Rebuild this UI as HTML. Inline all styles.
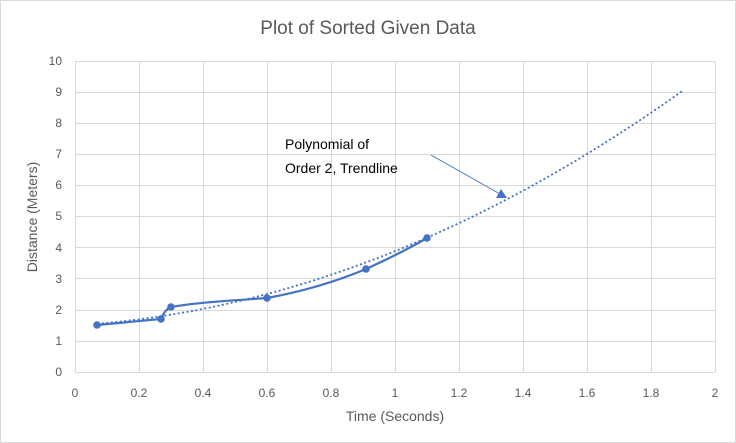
<!DOCTYPE html>
<html><head><meta charset="utf-8"><style>
html,body{margin:0;padding:0;background:#fff}
svg{display:block;font-family:"Liberation Sans",sans-serif}
</style></head><body>
<svg width="736" height="443" viewBox="0 0 736 443" xmlns="http://www.w3.org/2000/svg">
<rect x="0.5" y="0.5" width="735" height="442" fill="#fff" stroke="#d9d9d9"/>
<text x="368" y="34" text-anchor="middle" font-size="19" fill="#595959">Plot of Sorted Given Data</text>
<g stroke="#d9d9d9" stroke-width="1">
<line x1="75" y1="61.5" x2="715" y2="61.5"/><line x1="75" y1="92.5" x2="715" y2="92.5"/><line x1="75" y1="123.5" x2="715" y2="123.5"/><line x1="75" y1="154.5" x2="715" y2="154.5"/><line x1="75" y1="185.5" x2="715" y2="185.5"/><line x1="75" y1="216.5" x2="715" y2="216.5"/><line x1="75" y1="247.5" x2="715" y2="247.5"/><line x1="75" y1="278.5" x2="715" y2="278.5"/><line x1="75" y1="310.5" x2="715" y2="310.5"/><line x1="75" y1="341.5" x2="715" y2="341.5"/><line x1="75" y1="372.5" x2="715" y2="372.5"/>
<line x1="75.5" y1="61" x2="75.5" y2="372"/><line x1="139.5" y1="61" x2="139.5" y2="372"/><line x1="203.5" y1="61" x2="203.5" y2="372"/><line x1="267.5" y1="61" x2="267.5" y2="372"/><line x1="331.5" y1="61" x2="331.5" y2="372"/><line x1="395.5" y1="61" x2="395.5" y2="372"/><line x1="459.5" y1="61" x2="459.5" y2="372"/><line x1="523.5" y1="61" x2="523.5" y2="372"/><line x1="587.5" y1="61" x2="587.5" y2="372"/><line x1="651.5" y1="61" x2="651.5" y2="372"/><line x1="715.5" y1="61" x2="715.5" y2="372"/>
</g>
<g font-size="12" fill="#595959" text-anchor="end">
<text x="62" y="65">10</text><text x="62" y="96">9</text><text x="62" y="127">8</text><text x="62" y="158">7</text><text x="62" y="189">6</text><text x="62" y="220">5</text><text x="62" y="252">4</text><text x="62" y="283">3</text><text x="62" y="314">2</text><text x="62" y="345">1</text><text x="62" y="376">0</text>
</g>
<g font-size="12" fill="#595959" text-anchor="middle">
<text x="75" y="397">0</text><text x="139" y="397">0.2</text><text x="203" y="397">0.4</text><text x="267" y="397">0.6</text><text x="331" y="397">0.8</text><text x="395" y="397">1</text><text x="459" y="397">1.2</text><text x="523" y="397">1.4</text><text x="587" y="397">1.6</text><text x="651" y="397">1.8</text><text x="715" y="397">2</text>
</g>
<text x="395" y="421" text-anchor="middle" font-size="14" fill="#595959">Time (Seconds)</text>
<text transform="translate(37,217) rotate(-90)" text-anchor="middle" font-size="14" fill="#595959">Distance (Meters)</text>
<path d="M97.4,323.8 Q390.2,299 683,90.5" fill="none" stroke="#4472c4" stroke-width="1.8" stroke-dasharray="2,2.5"/>
<path d="M97,325 L161,319 C163,314 166,309 171,307 C200,302 240,300 267,298 C300,292 335,282 366,269 C390,258 410,248 427,238" fill="none" stroke="#4472c4" stroke-width="2.2"/>
<g fill="#4472c4">
<circle cx="97" cy="325" r="3.8"/><circle cx="161" cy="319" r="3.8"/><circle cx="171" cy="307" r="3.8"/><circle cx="267" cy="298" r="3.8"/><circle cx="366" cy="269" r="3.8"/><circle cx="427" cy="238" r="3.8"/>
</g>
<line x1="431" y1="155" x2="500" y2="194" stroke="#4472c4" stroke-width="1"/>
<polygon points="507,198 496,198 501,189" fill="#4472c4"/>
<text x="285" y="149" font-size="14" fill="#000">Polynomial of</text>
<text x="285" y="173" font-size="14" fill="#000">Order 2, Trendline</text>
</svg>
</body></html>
